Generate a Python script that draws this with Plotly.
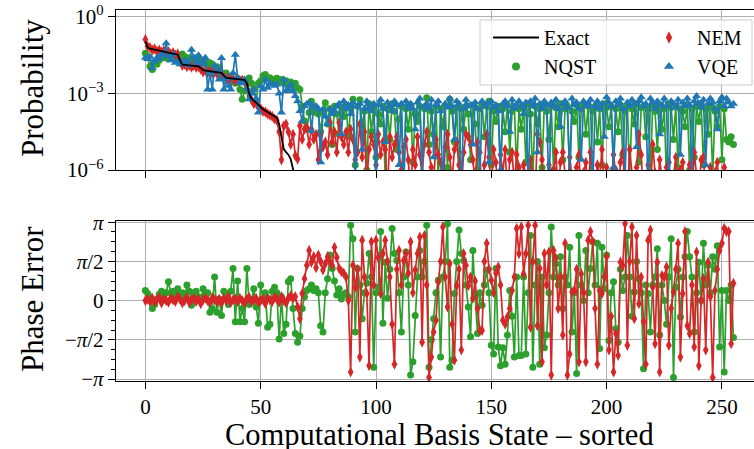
import numpy as np
import plotly.graph_objects as go

# ---------------- data ----------------
# probabilities given as log10 values
exact_log10 = [
    -0.96, -1.2, -1.24, -1.26, -1.28, -1.30, -1.31, -1.33, -1.35, -1.37,
    -1.39, -1.41, -1.43, -1.45, -1.48, -1.7, -1.87, -1.88, -1.89, -1.90,
    -1.91, -1.92, -1.93, -1.94, -2.0, -2.08, -2.10, -2.11, -2.13, -2.14,
    -2.15, -2.16, -2.17, -2.19, -2.3, -2.39, -2.40, -2.41, -2.42, -2.43,
    -2.44, -2.45, -2.46, -2.47, -2.6, -3.0, -3.2, -3.3, -3.36, -3.45,
    -3.55, -3.62, -3.68, -3.73, -3.78, -3.82, -3.88, -3.95, -4.2, -4.66,
    -5.18, -5.3, -5.4, -5.57, -5.96, -7.0]

nem_log10 = [
    -0.88, -1.15, -1.2, -1.3, -1.25, -1.35, -1.3, -1.38, -1.32, -1.4,
    -1.36, -1.45, -1.4, -1.5, -1.45, -1.75, -1.9, -1.85, -1.95, -1.9,
    -1.97, -1.9, -1.98, -1.95, -2.05, -2.15, -2.1, -2.18, -2.12, -2.2,
    -2.15, -2.22, -2.18, -2.25, -2.35, -2.45, -2.4, -2.48, -2.42, -2.5,
    -2.45, -2.52, -2.48, -2.55, -2.7, -3.1, -3.25, -3.4, -3.38, -3.55,
    -3.6, -3.7, -3.72, -3.8, -3.85, -3.9, -4.0, -4.05, -4.5,
    -5.6, -4.27, -4.2, -4.5, -5.0, -4.6, -5.44, -5.57, -4.27, -4.8,
    -4.4, -4.34, -5.0, -4.4, -4.8, -4.6, -5.6, -4.66, -5.1, -4.9,
    -5.4, -4.14, -4.9, -4.5, -5.3, -4.14, -4.7, -5.0, -4.5, -5.3,
    -4.4, -4.8, -5.6, -5.3, -4.2, -5.5, -4.5, -6.5, -5.2, -4.7,
    -5.0, -5.8, -4.6, -5.4, -4.9, -5.2, -6.8, -4.7, -5.5, -5.0,
    -4.7, -5.3, -6.0, -5.1, -4.8, -5.6, -7.0, -5.2, -5.8, -4.7,
    -5.4, -6.2, -5.0, -4.5, -5.3, -5.9, -6.6, -4.8, -5.4, -5.7,
    -7.0, -5.1, -4.6, -5.5, -6.4, -5.2, -4.9, -5.8, -7.0, -5.3,
    -4.6, -4.7, -5.0, -5.6, -6.5, -4.9, -5.3, -7.0, -5.8, -4.6,
    -5.5, -6.8, -5.2, -5.7, -7.0, -5.4, -6.1, -5.2, -7.0, -5.6,
    -5.3, -6.6, -5.4, -5.9, -7.0, -5.8, -6.2, -7.0, -5.6, -6.5,
    -7.0, -4.6, -4.9, -5.6, -7.0, -6.3, -5.8, -7.0, -6.0, -5.3,
    -7.0, -5.7, -5.3, -6.4, -7.0, -5.5, -6.2, -7.0, -5.9, -5.4,
    -7.0, -6.1, -5.7, -7.0, -5.3, -6.6, -7.0, -5.8, -6.3, -5.2,
    -7.0, -5.9, -6.5, -7.0, -5.4, -6.0, -7.0, -5.7, -5.3, -6.8,
    -7.0, -5.2, -6.2, -7.0, -5.9, -4.6, -5.4, -7.0, -6.4, -5.8,
    -7.0, -5.0, -6.1, -7.0, -5.6, -6.6, -7.0, -5.9, -5.7, -7.0,
    -6.3, -5.5, -7.0, -6.0, -5.7, -7.0, -6.5, -5.8, -7.0, -5.3,
    -6.2, -7.0, -5.6, -5.5, -7.0, -6.4, -5.9, -7.0, -6.1, -5.7,
    -7.0, -6.3, -5.9, -7.0, -6.6, -6.2, -7.0]

nqst_log10 = [
    -1.42, -1.6, -1.93, -2.06, -1.75, -1.85, -1.7, -1.55, -1.6, -1.5,
    -1.65, -1.45, -1.55, -1.7, -1.5, -1.6, -1.45, -1.55, -1.7, -1.6,
    -1.75, -1.8, -1.6, -1.65, -1.85, -1.7, -1.75, -1.9, -1.8, -1.85,
    -2.0, -1.95, -2.1, -2.2, -2.3, -2.2, -2.32, -2.32, -2.5, -2.6,
    -2.4, -2.84, -3.23, -2.9, -2.6, -2.39, -2.6, -2.8, -3.3, -2.6,
    -2.5, -2.3, -2.26, -2.4, -2.38, -2.45, -2.5, -2.4, -2.55, -2.45,
    -2.6, -2.5, -2.65, -2.55, -2.7, -2.6, -2.78,
    -2.84, -3.5, -4.08, -4.4, -3.75, -3.3, -3.6, -3.75, -3.8, -4.5,
    -3.7, -3.36, -4.2, -3.6, -5.0, -3.5, -3.8, -4.6, -3.55, -3.9,
    -3.45, -4.7, -3.6, -3.23, -5.8, -3.5, -3.25, -4.3, -3.7, -6.0,
    -3.4, -4.5, -3.6, -5.5, -3.8, -4.2, -3.5, -6.3, -3.6, -4.8,
    -3.4, -3.7, -5.2, -4.0, -3.5, -6.5, -3.6, -4.4, -3.45, -5.7,
    -3.8, -4.1, -3.5, -6.1, -3.6, -3.17, -5.0, -3.7, -4.6, -3.5,
    -6.4, -3.6, -4.3, -3.5, -5.9, -3.23, -3.7, -4.9, -3.55, -6.2,
    -3.6, -4.4, -3.5, -3.8, -5.6, -3.45, -4.2, -6.0, -3.6, -3.4,
    -4.7, -3.5, -3.3, -5.8, -3.7, -4.1, -3.5, -6.3, -3.6, -4.5,
    -3.45, -5.3, -3.7, -3.5, -6.1, -3.6, -4.4, -3.5, -5.7, -3.4,
    -3.8, -6.4, -3.5, -4.2, -3.6, -5.9, -3.4, -3.7, -4.8, -3.5,
    -6.0, -3.55, -4.3, -3.4, -5.6, -3.6, -3.5, -6.3, -3.7, -4.1,
    -3.45, -5.5, -3.6, -3.4, -4.6, -3.5, -6.2, -3.7, -3.5, -4.9,
    -3.6, -5.8, -3.4, -3.55, -4.3, -3.5, -6.0, -3.6, -4.5, -3.45,
    -5.4, -3.7, -3.5, -6.3, -3.6, -4.2, -3.4, -5.7, -3.55, -3.5,
    -4.7, -3.6, -6.1, -3.45, -3.7, -5.2, -3.5, -4.4, -3.6, -6.4,
    -3.4, -3.55, -4.8, -3.5, -5.9, -3.6, -3.7, -4.3, -3.45, -6.0,
    -3.6, -5.5, -3.5, -4.1, -3.4, -5.8, -3.6, -4.6, -3.5, -6.2,
    -3.7, -4.3, -3.5, -5.6, -3.6, -4.8, -4.9, -4.7, -5.0]

vqe_log10 = [
    -1.6, -1.65, -1.55, -2.0, -1.74, -1.6, -1.65, -1.45, -1.5, -1.03,
    -1.55, -1.7, -1.45, -1.8, -1.75, -1.85, -1.8, -1.7, -1.75, -1.9,
    -1.29, -1.6, -1.8, -1.5, -1.75, -1.85, -1.6, -2.84, -2.2, -2.84,
    -1.9, -2.1, -2.45, -1.61, -2.84, -2.4, -2.7, -2.84, -2.2, -1.48,
    -2.39, -2.55, -2.6, -2.45, -2.8, -3.23, -3.0, -2.84, -3.2,
    -3.75, -2.71, -2.84, -2.45, -2.78, -2.6, -2.65, -2.7, -2.65, -3.0,
    -3.75, -2.45, -2.9, -2.84, -2.65, -2.9, -3.1, -3.3, -3.69, -4.08,
    -3.5, -3.4, -3.36, -4.47, -3.5, -3.49, -3.6, -5.7, -3.62, -3.9,
    -4.2, -3.62, -3.8, -3.7,
    -3.5, -3.4, -4.6, -3.3, -3.6, -3.45, -3.8, -3.35, -6.5, -3.5,
    -3.4, -5.2, -3.6, -3.3, -3.55, -3.7, -3.4, -6.8, -3.45, -3.25,
    -3.6, -4.9, -3.35, -3.5, -3.7, -3.3, -3.45, -5.8, -3.4, -7.0,
    -3.3, -3.55, -3.4, -3.6, -4.4, -3.35, -3.2, -6.2, -3.5, -3.4,
    -3.6, -3.25, -5.5, -3.45, -3.3, -3.7, -6.9, -3.4, -3.55, -3.2,
    -3.5, -4.8, -3.3, -3.4, -7.0, -3.6, -3.25, -3.5, -3.45, -5.0,
    -3.35, -3.6, -6.4, -3.3, -3.5, -3.4, -5.7, -3.3, -3.55, -3.45,
    -3.7, -6.0, -3.4, -3.3, -3.5, -4.5, -3.25, -3.6, -3.45, -3.3,
    -3.5, -3.8, -3.35, -6.6, -3.3, -3.5, -3.2, -5.3, -3.4, -3.6,
    -3.3, -3.45, -7.0, -3.35, -3.5, -3.25, -3.6, -4.3, -3.4, -3.3,
    -3.55, -6.1, -3.2, -3.45, -3.35, -3.6, -5.6, -3.3, -3.5, -3.4,
    -3.25, -6.8, -3.5, -3.3, -3.6, -3.4, -4.7, -3.15, -3.35, -3.5,
    -5.9, -3.3, -3.45, -3.2, -3.6, -6.3, -3.35, -3.5, -3.25, -3.4,
    -5.1, -3.3, -3.15, -3.5, -3.4, -6.7, -3.2, -3.35, -3.6, -3.3,
    -4.6, -3.45, -3.2, -3.5, -7.0, -3.3, -3.4, -3.55, -3.25, -5.4,
    -3.35, -3.5, -3.2, -3.45, -6.2, -3.3, -3.1, -3.4, -3.55, -3.25,
    -5.8, -3.4, -3.2, -3.35, -3.6, -4.4, -3.3, -3.15, -3.5, -3.2,
    -3.35, -3.5, -3.4]

# phase errors in units of pi
nqst_phase_pi = [
    0.13, 0.09, 0.05, -0.1, -0.05, 0.02, 0.08, 0.12, 0.05, 0.1,
    0.24, 0.1, 0.12, 0.05, 0.15, 0.08, 0.1, 0.02, 0.2, 0.12,
    -0.06, 0.1, 0.12, 0.05, 0.0, 0.15, 0.08, 0.1, -0.15, -0.1,
    0.3, -0.15, 0.02, -0.19, 0.12, 0.08, -0.05, 0.12, 0.41, -0.27,
    0.25, -0.27, -0.1, -0.27, 0.41, -0.05, 0.0, 0.15, -0.08, -0.29,
    0.2, 0.02, 0.1, -0.34, -0.3, 0.12,
    0.17, 0.1, -0.49, 0.05, -0.42, -0.3, 0.24, 0.28, -0.1, -0.42,
    -0.53, -0.45, -0.1, 0.05, 0.13, 0.15, 0.2, 0.13, 0.15, 0.1,
    -0.32, -0.4, 0.1, 0.28, 0.58, 0.41, 0.25, 0.07, 0.15, 0.02,
    0.08, 0.1, 0.05,
    0.96, 0.79, -0.4, 0.41, 0.2, -0.23, 0.1, 0.22, 0.6, 0.3,
    -0.85, 0.1, 0.17, 0.88, -0.29, 0.49, 0.03, 0.4, 0.92, 0.6,
    0.51, 0.1, -0.4, 0.3, 0.62, 0.2, -0.95, -0.78, -0.19, 0.3,
    0.64, 0.3, 0.5, 0.96, -0.85, -0.5, -0.23, 0.1, 0.26, -0.72,
    0.3, 0.5, 0.98, -0.85, -0.76, 0.09, 0.5, 0.9, 0.6, 0.51,
    0.2, -0.08, -0.46, 0.64, 0.05, -0.42, 0.1, -0.06, 0.2, 0.39,
    0.1, -0.57, -0.68, 0.41, -0.59, -0.83, -0.6, -0.81, -0.44, 0.13,
    -0.2, -0.72, 0.3, -0.7,
    -0.7, 0.3, -0.68, 0.1, 0.83, -0.85, 0.2, 0.5, -0.81, 0.3,
    -0.6, -0.44, 0.1, 0.94, 0.3, 0.47, 0.2, 0.56, -0.1, 0.3,
    0.2, 0.68, -0.4, 0.1, -0.93, 0.83, 0.2, 0.0, 0.64, 0.1,
    0.41, 0.75, 0.2, 0.73, -0.61, 0.68, 0.15, 0.58, -0.51, 0.1,
    0.24, -0.36, -0.53, 0.4, 0.13, 0.3, 0.83, 0.3, -0.2, 0.11,
    0.5, 0.28, 0.1, -0.87, 0.2, 0.09, -0.4, 0.2, 0.3, 0.66,
    -0.44, 0.2, 0.0, -0.3, 0.3, 0.79, -0.98, 0.17, 0.4, -0.21,
    0.3, 0.56, 0.88, 0.56, 0.3, -0.4, 0.1, 0.49, 0.0, 0.73,
    0.2, 0.45, 0.1, 0.56, 0.4, 0.7, -0.59, 0.13, -0.91, 0.13,
    0.0, 0.2, -0.47]

nem_phase_pi = [
    0.0, 0.02, -0.01, 0.03, -0.02, 0.01, 0.04, -0.03, 0.02, 0.0,
    -0.02, 0.03, 0.01, -0.01, 0.05, 0.02, -0.03, 0.0, 0.04, -0.02,
    0.01, 0.03, -0.01, 0.02, -0.04, 0.01, 0.03, 0.0, -0.02, 0.04,
    0.01, -0.01, 0.02, -0.03, 0.03, 0.0, 0.05, -0.02, 0.01, 0.02,
    -0.01, 0.03, 0.0, -0.03, 0.02, 0.04, -0.01, 0.01, 0.03, -0.02,
    0.0, 0.02, -0.04, 0.03, 0.01, -0.01, 0.04, 0.02, -0.02, 0.05,
    0.0, -0.03, 0.03, 0.06,
    0.03, 0.05, -0.08, -0.23, 0.09, 0.28, 0.45, 0.64, 0.49, 0.56,
    0.42, 0.58, 0.5, 0.39, 0.47, 0.56, 0.5, 0.45, 0.68, 0.55,
    0.41, 0.37, 0.35, 0.3, 0.0,
    -0.91, 0.45, 0.17, 0.4, -0.72, 0.77, 0.3, 0.09, -0.83, 0.75,
    0.2, 0.77, 0.55, 0.09, 0.6, 0.77, 0.5, 0.3, -0.3, -0.81,
    0.4, 0.64, 0.2, 0.51, 0.6, 0.35, 0.75, 0.1, 0.39, 0.6,
    0.81, -0.53, 0.83, 0.2, -0.98, -0.72, -0.4, -0.25, 0.24, 0.5,
    0.94, 0.3, -0.08, 0.47, -0.3, -0.76, 0.19, 0.4, -0.63, 0.6,
    0.45, 0.19, 0.3, 0.03, 0.25, -0.1, -0.38, -0.38, 0.5, 0.73,
    0.4, 0.26, 0.1, 0.35, 0.43, 0.2, -0.25, -0.3, -0.21, -0.1,
    0.13, 0.3, 0.92, 0.6,
    0.94, 0.34, 0.6, 0.96, -0.34, 0.5, 0.96, -0.32, 0.41, -0.78,
    0.6, 0.2, 0.62, -0.95, 0.64, 0.54, -0.1, 0.3, -0.44, 0.73,
    -0.95, -0.68, 0.11, 0.13, 0.4, -0.78, 0.34, 0.1, -0.78, 0.77,
    0.88, 0.75, -0.1, -0.81, 0.13, 0.09, 0.3, 0.56, -0.63, -0.2,
    -0.91, -0.42, -0.7, 0.49, 0.45, 0.98, -0.57, 0.5, 0.94, -0.23,
    0.83, -0.04, 0.3, -0.27, -0.81, 0.77, 0.9, 0.17, -0.55, 0.49,
    -0.91, 0.32, 0.3, 0.43, -0.57, -0.1, 0.11, 0.4, 0.73, -0.72,
    0.09, 0.88, -0.32, -0.42, 0.2, -0.59, 0.62, -0.83, 0.0, 0.28,
    -0.63, 0.49, 0.05, -0.98, 0.13, 0.4, 0.64, 0.73, 0.92, 0.88,
    0.88, -0.55, 0.22]

x_tickvals = [0, 50, 100, 150, 200, 250]
prob_tickvals = [1, 1e-3, 1e-6]
prob_ticktext = ["10<sup>0</sup>", "10<sup>\u22123</sup>", "10<sup>\u22126</sup>"]
phase_tickvals_pi = [1, 0.5, 0, -0.5, -1]
phase_ticktext = ["<i>\u03c0</i>", "<i>\u03c0</i>/2", "0", "\u2212<i>\u03c0</i>/2", "\u2212<i>\u03c0</i>"]
phase_minor_pi = [k / 8 for k in range(-8, 9)]

# ---------------- styling ----------------
GREEN = "#2ca02c"
RED = "#d62728"
BLUE = "#1f77b4"
FONT = "Liberation Serif"
GRID = "#b0b0b0"

def arr_x(a):
    return np.arange(len(a))

def prob(a):
    return 10.0 ** np.asarray(a, dtype=float)

fig = go.Figure()

# top panel
fig.add_trace(go.Scatter(x=arr_x(nqst_log10), y=prob(nqst_log10), mode="lines+markers",
                         line=dict(color=GREEN, width=1.7), marker=dict(symbol="circle", size=7, color=GREEN),
                         showlegend=False, xaxis="x", yaxis="y"))
fig.add_trace(go.Scatter(x=arr_x(nem_log10), y=prob(nem_log10), mode="lines+markers",
                         line=dict(color=RED, width=1.7), marker=dict(symbol="diamond-tall", size=8, color=RED),
                         showlegend=False, xaxis="x", yaxis="y"))
fig.add_trace(go.Scatter(x=arr_x(vqe_log10), y=prob(vqe_log10), mode="lines+markers",
                         line=dict(color=BLUE, width=1.7), marker=dict(symbol="triangle-up", size=8, color=BLUE),
                         showlegend=False, xaxis="x", yaxis="y"))
fig.add_trace(go.Scatter(x=arr_x(exact_log10), y=prob(exact_log10), mode="lines",
                         line=dict(color="black", width=1.8),
                         showlegend=False, xaxis="x", yaxis="y"))

# bottom panel
fig.add_trace(go.Scatter(x=arr_x(nqst_phase_pi), y=np.asarray(nqst_phase_pi) * np.pi, mode="lines+markers",
                         line=dict(color=GREEN, width=1.7), marker=dict(symbol="circle", size=7, color=GREEN),
                         showlegend=False, xaxis="x2", yaxis="y2"))
fig.add_trace(go.Scatter(x=arr_x(nem_phase_pi), y=np.asarray(nem_phase_pi) * np.pi, mode="lines+markers",
                         line=dict(color=RED, width=1.7), marker=dict(symbol="diamond-tall", size=8, color=RED),
                         showlegend=False, xaxis="x2", yaxis="y2"))

# legend entries (two columns)
fig.add_trace(go.Scatter(x=[None], y=[None], mode="lines", name="Exact",
                         line=dict(color="black", width=1.8), legend="legend", xaxis="x", yaxis="y"))
fig.add_trace(go.Scatter(x=[None], y=[None], mode="markers", name="NQST",
                         marker=dict(symbol="circle", size=8, color=GREEN), legend="legend", xaxis="x", yaxis="y"))
fig.add_trace(go.Scatter(x=[None], y=[None], mode="markers", name="NEM",
                         marker=dict(symbol="diamond-tall", size=9, color=RED), legend="legend2", xaxis="x", yaxis="y"))
fig.add_trace(go.Scatter(x=[None], y=[None], mode="markers", name="VQE",
                         marker=dict(symbol="triangle-up", size=9, color=BLUE), legend="legend2", xaxis="x", yaxis="y"))

W, H = 754, 449
L, R, T, B = 116, 0, 10, 68
PW, PH = W - L - R, H - T - B

def px_x(px):
    return (px - L) / PW

def px_y(py):
    return (H - B - py) / PH

xr = [-12.75, -12.75 + PW / 2.306]
axis_common = dict(showline=True, linecolor="black", linewidth=1.4, ticks="outside",
                   ticklen=7, tickwidth=1.3, tickcolor="black", showgrid=True,
                   gridcolor=GRID, gridwidth=1.2, zeroline=False, automargin=False,
                   tickfont=dict(family=FONT, size=21, color="black"))

legend_common = dict(xanchor="left", yanchor="top", bgcolor="rgba(0,0,0,0)", borderwidth=0,
                     font=dict(family=FONT, size=20, color="black"),
                     itemwidth=46, tracegroupgap=0)

fig.update_layout(
    width=W, height=H,
    margin=dict(l=L, r=R, t=T, b=B, pad=0, autoexpand=False),
    paper_bgcolor="white", plot_bgcolor="white",
    font=dict(family=FONT, color="black"),
    xaxis=dict(domain=[0, 1], anchor="y", range=xr, tickvals=x_tickvals,
               showticklabels=False, mirror=True, **axis_common),
    yaxis=dict(domain=[px_y(170), 1], anchor="x", type="log", range=[-6, 0.273],
               tickvals=prob_tickvals, ticktext=prob_ticktext, mirror=False, **axis_common),
    xaxis2=dict(domain=[0, 1], anchor="y2", range=xr, tickvals=x_tickvals,
                showticklabels=True, mirror=True, **axis_common),
    yaxis2=dict(domain=[0, px_y(221)], anchor="x2", range=[-1.025 * np.pi, 1.015 * np.pi],
                tickvals=[v * np.pi for v in phase_tickvals_pi], ticktext=phase_ticktext,
                mirror=False,
                minor=dict(tickvals=[v * np.pi for v in phase_minor_pi], ticks="outside",
                           ticklen=4, tickwidth=1.1, tickcolor="black", showgrid=False),
                **axis_common),
    legend=dict(x=px_x(488), y=px_y(18), **legend_common),
    legend2=dict(x=px_x(641), y=px_y(18), **legend_common),
    shapes=[dict(type="rect", xref="paper", yref="paper",
                 x0=px_x(480), x1=px_x(752), y0=px_y(85), y1=px_y(20),
                 fillcolor="rgba(255,255,255,0.8)", line=dict(color="#cccccc", width=1),
                 layer="above")],
    annotations=[
        dict(text="Probability", xref="paper", yref="paper", x=px_x(32), y=px_y(88),
             textangle=-90, showarrow=False, xanchor="center", yanchor="middle",
             font=dict(family=FONT, size=31, color="black")),
        dict(text="Phase Error", xref="paper", yref="paper", x=px_x(32), y=px_y(299),
             textangle=-90, showarrow=False, xanchor="center", yanchor="middle",
             font=dict(family=FONT, size=31, color="black")),
        dict(text="Computational Basis State \u2013 sorted", xref="paper", yref="paper",
             x=px_x(439), y=px_y(435), showarrow=False, xanchor="center", yanchor="middle",
             font=dict(family=FONT, size=30.5, color="black")),
    ],
)

fig.write_html("out.html", config={"displayModeBar": False},
               post_script="document.body.style.margin='0';document.body.style.overflow='hidden';")
